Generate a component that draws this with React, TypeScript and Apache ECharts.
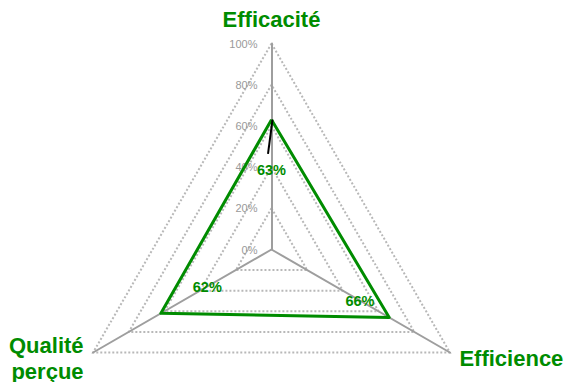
import React, { useEffect, useRef } from "react";
import * as echarts from "echarts";

const indicators = ["Efficacité", "Qualité\nperçue", "Efficience"];
const values = [63, 62, 66];
const tickMax = 100;
const tickSplit = 5;
// radial positions (in %) where the value labels sit
const labelPos = [38.6, 36, 49.6];

const GREEN = "#008c00";
const CX = 271.5;
const CY = 249.5;
const R = 206;

export default function App() {
  const ref = useRef<HTMLDivElement>(null);
  useEffect(() => {
    if (!ref.current) return;
    const chart = echarts.init(ref.current, undefined, { renderer: "svg" });
    chart.setOption({
      animation: false,
      radar: {
        center: [CX, CY],
        radius: R,
        startAngle: 90,
        splitNumber: tickSplit,
        shape: "polygon",
        nameGap: 11,
        axisName: {
          color: GREEN,
          fontFamily: "Liberation Sans, Arial, sans-serif",
          fontWeight: "bold",
          fontSize: 22,
          lineHeight: 26,
        },
        indicator: indicators.map((n, i) => ({
          name: n,
          min: 0,
          max: tickMax,
          axisLabel: i === 0 ? { show: true } : { show: false },
        })),
        axisLine: { lineStyle: { color: "#9e9e9e", width: 2 } },
        splitLine: { lineStyle: { color: "#b8b8b8", width: 2, type: [2, 2] } },
        splitArea: { show: false },
        axisTick: { show: false },
        axisLabel: {
          show: true,
          margin: 14,
          color: "#999999",
          fontSize: 11,
          fontFamily: "Liberation Sans, Arial, sans-serif",
          formatter: "{value}%",
        },
      },
      graphic: [
        {
          type: "line",
          shape: {
            x1: CX + 1,
            y1: CY - (R * values[0]) / 100,
            x2: CX - 3.5,
            y2: CY - R * 0.464,
          },
          style: { stroke: "#000", lineWidth: 2 },
          z: 10,
        },
      ],
      series: [
        {
          type: "radar",
          symbol: "none",
          lineStyle: { color: GREEN, width: 3 },
          itemStyle: { color: GREEN },
          data: [{ value: values, name: "Score" }],
          z: 3,
        },
        {
          type: "radar",
          symbol: "circle",
          symbolSize: 1,
          itemStyle: { color: "rgba(0,0,0,0)" },
          lineStyle: { width: 0, opacity: 0 },
          label: {
            show: true,
            position: "inside",
            color: GREEN,
            fontWeight: "bold",
            fontSize: 14.5,
            fontFamily: "Liberation Sans, Arial, sans-serif",
            formatter: (p: any) => {
              let idx = p.dimensionIndex;
              if (idx == null) idx = labelPos.indexOf(p.value);
              return values[idx] + "%";
            },
          },
          data: [{ value: labelPos, name: "labels" }],
          z: 12,
        },
      ],
    });
    return () => chart.dispose();
  }, []);
  return (
    <div
      ref={ref}
      style={{ position: "fixed", left: 0, top: 0, width: 565, height: 382, background: "#fff" }}
    />
  );
}
